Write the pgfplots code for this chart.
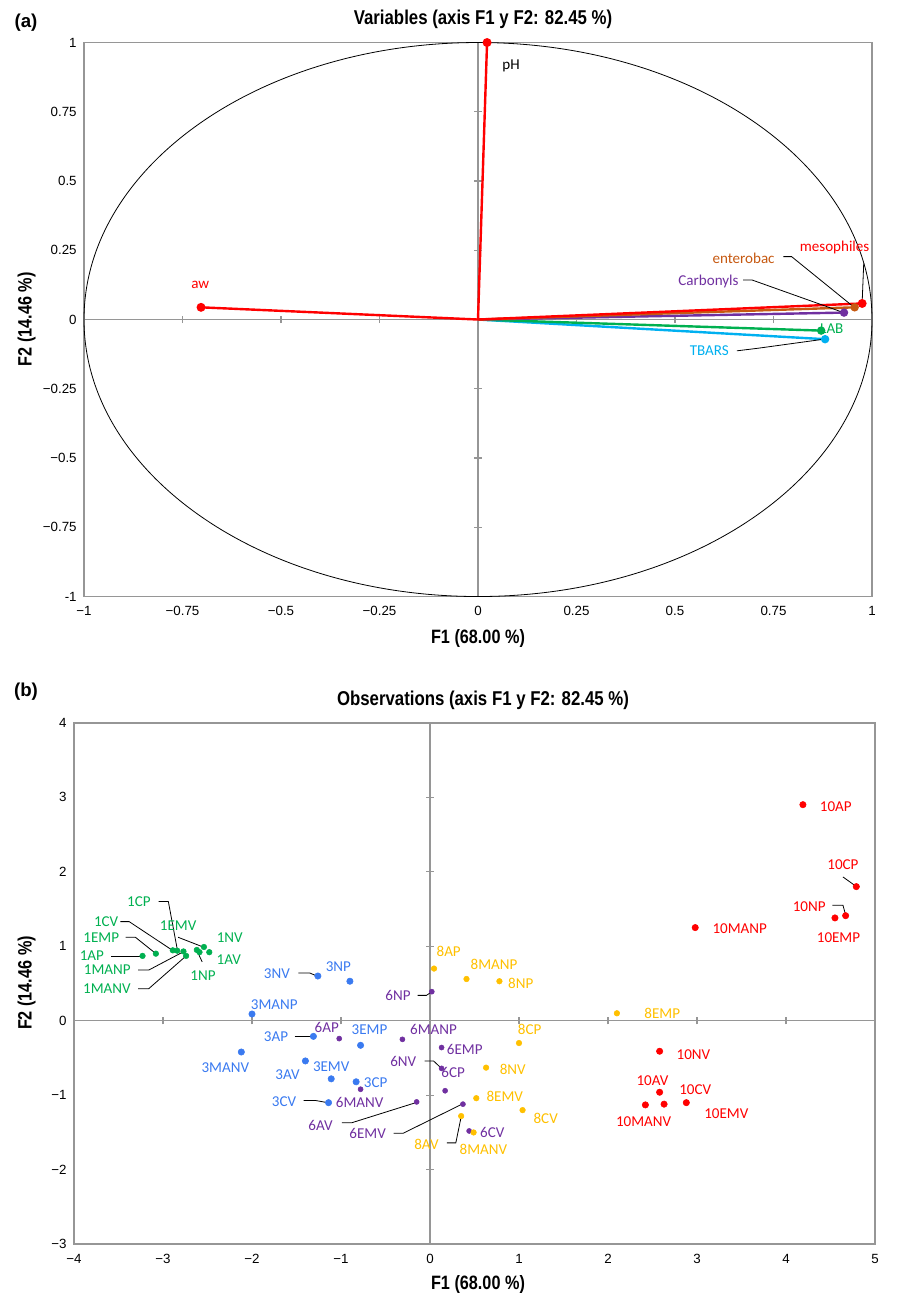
\documentclass[border=0pt]{standalone}
\usepackage{fontspec}
\setmainfont{Carlito}
\newfontfamily\arialf{Liberation Sans}
\newfontfamily\arialn[FakeStretch=0.84]{Liberation Sans}
\usepackage{pgfplots}
\pgfplotsset{compat=1.18}
\definecolor{cred}{HTML}{FF0000}
\definecolor{corange}{HTML}{C65911}
\definecolor{cpurple}{HTML}{7030A0}
\definecolor{cgreen}{HTML}{00B050}
\definecolor{ccyan}{HTML}{00B0F0}
\definecolor{cblue}{HTML}{3A7AF0}
\definecolor{cyellow}{HTML}{FFC000}
\definecolor{gridc}{HTML}{969696}
\pgfplotsset{
  pcabase/.style={scale only axis, anchor=south west, clip=false,
    axis line style={draw=gridc, line width=1.3pt},
    major tick length=0pt, tick style={draw=none},
    ticklabel style={font=\arialf\fontsize{10}{12}\selectfont, text=black},
    xticklabel style={yshift=-4pt},
    yticklabel style={xshift=-2pt}},
}
\tikzset{lab/.style={font=\fontsize{11.3}{13}\selectfont, inner sep=0pt},
  lead/.style={draw=black, line width=0.6pt},
  tk/.style={draw=gridc, line width=0.8pt}}
\begin{document}
\begin{tikzpicture}[x=1pt,y=1pt]
\path[use as bounding box] (0,0) rectangle (684,975);
% ---------------- Panel (a)
\begin{axis}[pcabase, at={(63pt,527.6pt)}, width=591pt, height=415.5pt,
  xmin=-1, xmax=1, ymin=-1, ymax=1,
  xtick={-1,-0.75,-0.5,-0.25,0,0.25,0.5,0.75,1},
  xticklabels={−1,−0.75,−0.5,−0.25,0,0.25,0.5,0.75,1},
  ytick={-1,-0.75,-0.5,-0.25,0,0.25,0.5,0.75,1},
  yticklabels={-1,−0.75,−0.5,−0.25,0,0.25,0.5,0.75,1}]
\draw[gridc, line width=1pt] (axis cs:-1,0) -- (axis cs:1,0);
\draw[gridc, line width=1pt] (axis cs:0,-1) -- (axis cs:0,1);
\pgfplotsinvokeforeach{-0.75,-0.5,-0.25,0.25,0.5,0.75}{
  \draw[tk] ([yshift=-2.7pt]axis cs:#1,0) -- ([yshift=2.7pt]axis cs:#1,0);
  \draw[tk] ([xshift=-2.7pt]axis cs:0,#1) -- ([xshift=2.7pt]axis cs:0,#1);
}
\draw[black, line width=0.6pt] (axis cs:0,0) ellipse [x radius=1, y radius=1];
\addplot[ccyan, line width=1.8pt, mark=*, mark indices={2}, mark size=2.2pt] coordinates {(0,0) (0.881,-0.071)};
\addplot[cgreen, line width=1.8pt, mark=*, mark indices={2}, mark size=2.2pt] coordinates {(0,0) (0.871,-0.040)};
\addplot[cpurple, line width=1.8pt, mark=*, mark indices={2}, mark size=2.2pt] coordinates {(0,0) (0.929,0.025)};
\addplot[corange, line width=1.8pt, mark=*, mark indices={2}, mark size=2.2pt] coordinates {(0,0) (0.956,0.044)};
\addplot[cred, line width=1.8pt, mark=*, mark indices={2}, mark size=2.4pt] coordinates {(0,0) (0.975,0.058)};
\addplot[cred, line width=1.8pt, mark=*, mark indices={2}, mark size=2.4pt] coordinates {(0,0) (-0.703,0.044)};
\addplot[cred, line width=1.8pt, mark=*, mark indices={2}, mark size=2.4pt] coordinates {(0,0) (0.023,1.0)};
% labels
\node[lab, text=black] at (axis cs:0.084,0.915) {pH};
\node[lab, text=cred] at (axis cs:-0.705,0.125) {aw};
\node[lab, text=cred] at (axis cs:0.905,0.26) {mesophiles};
\draw[lead] (axis cs:0.979,0.203) -- (axis cs:0.975,0.062);
\node[lab, text=corange] at (axis cs:0.674,0.221) {enterobac};
\draw[lead] (axis cs:0.775,0.227) -- (axis cs:0.796,0.227) -- (axis cs:0.953,0.046);
\node[lab, text=cpurple] at (axis cs:0.585,0.136) {Carbonyls};
\draw[lead] (axis cs:0.673,0.143) -- (axis cs:0.695,0.143) -- (axis cs:0.926,0.026);
\node[lab, text=cgreen] at (axis cs:0.898,-0.032) {LAB};
\node[lab, text=ccyan] at (axis cs:0.587,-0.113) {TBARS};
\draw[lead] (axis cs:0.657,-0.113) -- (axis cs:0.709,-0.104) -- (axis cs:0.878,-0.071);
\end{axis}
% ---------------- Panel (b)
\begin{axis}[pcabase, at={(55.5pt,41.85pt)}, width=600.75pt, height=391.1pt,
  xmin=-4, xmax=5, ymin=-3, ymax=4,
  xtick={-4,-3,-2,-1,0,1,2,3,4,5},
  xticklabels={−4,−3,−2,−1,0,1,2,3,4,5},
  ytick={-3,-2,-1,0,1,2,3,4},
  yticklabels={−3,−2,−1,0,1,2,3,4}]
\draw[gridc, line width=1pt] (axis cs:-4,0) -- (axis cs:5,0);
\draw[gridc, line width=1pt] (axis cs:0,-3) -- (axis cs:0,4);
\pgfplotsinvokeforeach{-3,-2,-1,1,2,3,4}{
  \draw[tk] ([yshift=-2.7pt]axis cs:#1,0) -- ([yshift=2.7pt]axis cs:#1,0);
}
\pgfplotsinvokeforeach{-2,-1,1,2,3}{
  \draw[tk] ([xshift=-2.7pt]axis cs:0,#1) -- ([xshift=2.7pt]axis cs:0,#1);
}
% day 1
\addplot[only marks, mark=*, mark size=2.1pt, cgreen] table {
x y
-3.23 0.87
-3.08 0.90
-2.89 0.945
-2.84 0.94
-2.77 0.93
-2.74 0.87
-2.62 0.95
-2.59 0.92
-2.54 0.99
-2.48 0.92
};
% day 3
\addplot[only marks, mark=*, mark size=2.4pt, cblue] table {
x y
-1.26 0.60
-0.90 0.53
-2.00 0.09
-1.31 -0.21
-2.12 -0.42
-0.78 -0.33
-1.40 -0.54
-1.11 -0.78
-0.83 -0.82
-1.14 -1.10
};
% day 6
\addplot[only marks, mark=*, mark size=1.9pt, cpurple] table {
x y
-1.02 -0.24
-0.31 -0.25
0.02 0.39
0.13 -0.36
0.13 -0.64
0.17 -0.94
-0.78 -0.92
-0.15 -1.09
0.37 -1.12
0.44 -1.48
};
% day 8
\addplot[only marks, mark=*, mark size=2.1pt, cyellow] table {
x y
0.045 0.70
0.41 0.56
0.78 0.53
1.00 -0.30
0.63 -0.63
0.52 -1.04
1.04 -1.20
0.35 -1.28
0.49 -1.50
2.10 0.10
};
% day 10
\addplot[only marks, mark=*, mark size=2.4pt, cred] table {
x y
4.19 2.90
4.79 1.80
4.67 1.41
4.55 1.38
2.98 1.25
2.58 -0.41
2.58 -0.96
2.63 -1.12
2.88 -1.10
2.42 -1.13
};
% green labels
\node[lab, text=cgreen] at (axis cs:-3.27,1.60) {1CP};
\draw[lead] (axis cs:-3.05,1.60) -- (axis cs:-2.94,1.60) -- (axis cs:-2.84,0.96);
\node[lab, text=cgreen, anchor=east] at (axis cs:-3.50,1.33) {1CV};
\draw[lead] (axis cs:-3.48,1.33) -- (axis cs:-3.38,1.33) -- (axis cs:-2.90,0.95);
\node[lab, text=cgreen, anchor=east] at (axis cs:-3.49,1.12) {1EMP};
\draw[lead] (axis cs:-3.42,1.12) -- (axis cs:-3.31,1.12) -- (axis cs:-3.09,0.91);
\node[lab, text=cgreen, anchor=east] at (axis cs:-3.66,0.87) {1AP};
\draw[lead] (axis cs:-3.58,0.87) -- (axis cs:-3.24,0.87);
\node[lab, text=cgreen, anchor=east] at (axis cs:-3.36,0.68) {1MANP};
\draw[lead] (axis cs:-3.28,0.68) -- (axis cs:-3.16,0.68) -- (axis cs:-2.78,0.92);
\node[lab, text=cgreen, anchor=east] at (axis cs:-3.36,0.43) {1MANV};
\draw[lead] (axis cs:-3.28,0.43) -- (axis cs:-3.16,0.43) -- (axis cs:-2.75,0.86);
\node[lab, text=cgreen] at (axis cs:-2.83,1.28) {1EMV};
\draw[lead] (axis cs:-2.83,1.12) -- (axis cs:-2.55,0.99);
\node[lab, text=cgreen] at (axis cs:-2.25,1.11) {1NV};
\node[lab, text=cgreen] at (axis cs:-2.26,0.82) {1AV};
\node[lab, text=cgreen] at (axis cs:-2.55,0.61) {1NP};
\draw[lead] (axis cs:-2.56,0.79) -- (axis cs:-2.62,0.945);
% blue labels
\node[lab, text=cblue] at (axis cs:-1.72,0.63) {3NV};
\draw[lead] (axis cs:-1.48,0.64) -- (axis cs:-1.35,0.64) -- (axis cs:-1.27,0.60);
\node[lab, text=cblue] at (axis cs:-1.03,0.73) {3NP};
\node[lab, text=cblue] at (axis cs:-1.75,0.21) {3MANP};
\node[lab, text=cblue] at (axis cs:-1.73,-0.22) {3AP};
\draw[lead] (axis cs:-1.52,-0.21) -- (axis cs:-1.33,-0.21);
\node[lab, text=cblue] at (axis cs:-2.30,-0.63) {3MANV};
\node[lab, text=cblue] at (axis cs:-0.68,-0.12) {3EMP};
\node[lab, text=cblue] at (axis cs:-1.60,-0.73) {3AV};
\node[lab, text=cblue] at (axis cs:-1.11,-0.62) {3EMV};
\node[lab, text=cblue] at (axis cs:-0.61,-0.83) {3CP};
\node[lab, text=cblue] at (axis cs:-1.64,-1.08) {3CV};
\draw[lead] (axis cs:-1.42,-1.07) -- (axis cs:-1.29,-1.07) -- (axis cs:-1.15,-1.10);
% purple labels
\node[lab, text=cpurple] at (axis cs:-1.16,-0.09) {6AP};
\node[lab, text=cpurple] at (axis cs:0.04,-0.12) {6MANP};
\node[lab, text=cpurple] at (axis cs:-0.36,0.34) {6NP};
\draw[lead] (axis cs:-0.14,0.34) -- (axis cs:-0.04,0.34) -- (axis cs:0.01,0.38);
\node[lab, text=cpurple] at (axis cs:0.39,-0.38) {6EMP};
\node[lab, text=cpurple] at (axis cs:-0.30,-0.55) {6NV};
\draw[lead] (axis cs:-0.06,-0.54) -- (axis cs:0.04,-0.54) -- (axis cs:0.12,-0.63);
\node[lab, text=cpurple] at (axis cs:0.26,-0.70) {6CP};
\node[lab, text=cpurple] at (axis cs:-0.79,-1.10) {6MANV};
\node[lab, text=cpurple] at (axis cs:-1.23,-1.41) {6AV};
\draw[lead] (axis cs:-0.99,-1.37) -- (axis cs:-0.88,-1.37) -- (axis cs:-0.16,-1.10);
\node[lab, text=cpurple] at (axis cs:-0.70,-1.52) {6EMV};
\draw[lead] (axis cs:-0.41,-1.51) -- (axis cs:-0.30,-1.51) -- (axis cs:0.36,-1.12);
\node[lab, text=cpurple] at (axis cs:0.70,-1.50) {6CV};
% yellow labels
\node[lab, text=cyellow] at (axis cs:0.21,0.93) {8AP};
\node[lab, text=cyellow] at (axis cs:0.72,0.76) {8MANP};
\node[lab, text=cyellow] at (axis cs:1.02,0.50) {8NP};
\node[lab, text=cyellow] at (axis cs:1.12,-0.12) {8CP};
\node[lab, text=cyellow] at (axis cs:0.93,-0.65) {8NV};
\node[lab, text=cyellow] at (axis cs:0.84,-1.01) {8EMV};
\node[lab, text=cyellow] at (axis cs:1.30,-1.31) {8CV};
\node[lab, text=cyellow] at (axis cs:-0.04,-1.66) {8AV};
\draw[lead] (axis cs:0.19,-1.64) -- (axis cs:0.29,-1.64) -- (axis cs:0.35,-1.29);
\node[lab, text=cyellow] at (axis cs:0.60,-1.73) {8MANV};
\node[lab, text=cyellow] at (axis cs:2.61,0.10) {8EMP};
% red labels
\node[lab, text=cred] at (axis cs:4.56,2.87) {10AP};
\node[lab, text=cred] at (axis cs:4.64,2.10) {10CP};
\draw[lead] (axis cs:4.64,1.93) -- (axis cs:4.78,1.81);
\node[lab, text=cred] at (axis cs:4.26,1.53) {10NP};
\draw[lead] (axis cs:4.52,1.55) -- (axis cs:4.64,1.55) -- (axis cs:4.67,1.42);
\node[lab, text=cred] at (axis cs:4.59,1.12) {10EMP};
\node[lab, text=cred] at (axis cs:3.48,1.23) {10MANP};
\node[lab, text=cred] at (axis cs:2.96,-0.45) {10NV};
\node[lab, text=cred] at (axis cs:2.50,-0.81) {10AV};
\node[lab, text=cred] at (axis cs:2.98,-0.92) {10CV};
\node[lab, text=cred] at (axis cs:3.33,-1.25) {10EMV};
\node[lab, text=cred] at (axis cs:2.40,-1.36) {10MANV};
\end{axis}
% ---------------- titles and axis labels
\node[font=\arialn\bfseries\fontsize{15}{17}\selectfont] at (362.25,960.5) {Variables (axis F1 y F2: 82.45 \%)};
\node[font=\arialf\bfseries\fontsize{14}{16}\selectfont] at (19.5,958) {(a)};
\node[font=\arialn\bfseries\fontsize{14.5}{16}\selectfont] at (358.5,495.75) {F1 (68.00 \%)};
\node[font=\arialn\bfseries\fontsize{14.5}{16}\selectfont, rotate=90] at (20,735.4) {F2 (14.46 \%)};
\node[font=\arialn\bfseries\fontsize{15}{17}\selectfont] at (362.25,450) {Observations (axis F1 y F2: 82.45 \%)};
\node[font=\arialf\bfseries\fontsize{14}{16}\selectfont] at (19.5,456) {(b)};
\node[font=\arialn\bfseries\fontsize{14.5}{16}\selectfont] at (358.5,11.25) {F1 (68.00 \%)};
\node[font=\arialn\bfseries\fontsize{14.5}{16}\selectfont, rotate=90] at (20,237.75) {F2 (14.46 \%)};
\end{tikzpicture}
\end{document}
